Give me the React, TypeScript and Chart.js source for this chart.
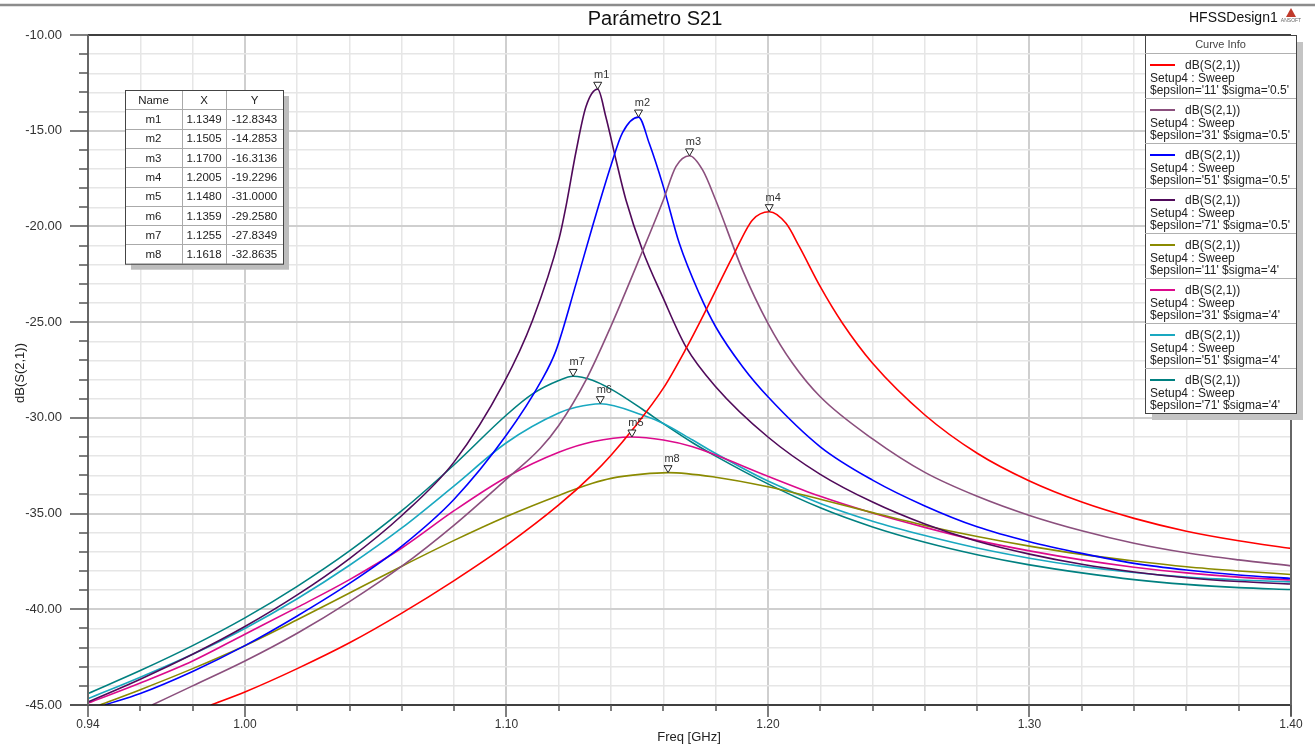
import { useEffect, useRef } from "react";
import { Chart, registerables } from "chart.js";

Chart.register(...registerables);

const FONT = "'Liberation Sans', Arial, Helvetica, sans-serif";

// ---- series meta ----
const seriesEpsilon = ["11", "31", "51", "71", "11", "31", "51", "71"];
const seriesSigma = ["0.5", "0.5", "0.5", "0.5", "4", "4", "4", "4"];
const seriesColors = ["#FF0000", "#8B4F7D", "#0000FF", "#500A5A", "#8A8A00", "#DC0A8C", "#19A8C0", "#008080"];

// ---- series values (Freq GHz / dB) ----
const fE11S05 = [0.987, 1.0, 1.02, 1.04, 1.06, 1.08, 1.1, 1.12, 1.133, 1.14, 1.148, 1.16, 1.1686, 1.1763, 1.1865, 1.1941, 1.2005, 1.2069, 1.212, 1.22, 1.2285, 1.24, 1.26, 1.28, 1.3, 1.32, 1.34, 1.36, 1.38, 1.4];
const dbE11S05 = [-45, -44.32, -43.1, -41.75, -40.2, -38.5, -36.65, -34.55, -32.95, -31.95, -30.65, -28.45, -26.4, -24.37, -21.58, -19.66, -19.23, -19.84, -21.06, -23.15, -25.06, -27.15, -29.85, -31.85, -33.3, -34.4, -35.25, -35.92, -36.42, -36.82];

const fE31S05 = [0.9645, 0.98, 1.0, 1.02, 1.04, 1.06, 1.08, 1.1, 1.1129, 1.12, 1.1305, 1.14, 1.152, 1.16, 1.1648, 1.17, 1.175, 1.18, 1.1903, 1.2, 1.2094, 1.22, 1.24, 1.26, 1.28, 1.3, 1.32, 1.34, 1.36, 1.38, 1.4];
const dbE31S05 = [-45, -44.0, -42.7, -41.25, -39.6, -37.75, -35.6, -33.2, -31.6, -30.4, -28.0, -25.2, -21.3, -18.62, -16.88, -16.31, -17.05, -18.62, -22.28, -25.06, -27.15, -28.9, -31.1, -32.85, -34.1, -35.1, -35.9, -36.55, -37.05, -37.42, -37.73];

const fE51S05 = [0.9464, 0.96, 0.98, 1.0, 1.02, 1.04, 1.06, 1.08, 1.1, 1.1132, 1.1189, 1.1266, 1.1329, 1.14, 1.1444, 1.1505, 1.1546, 1.16, 1.1661, 1.1737, 1.18, 1.1903, 1.2, 1.22, 1.24, 1.26, 1.28, 1.3, 1.32, 1.34, 1.36, 1.38, 1.4];
const dbE51S05 = [-45, -44.4, -43.25, -41.9, -40.35, -38.65, -36.7, -34.25, -30.9, -28.1, -26.5, -23.0, -20.0, -16.8, -15.1, -14.29, -15.66, -17.92, -20.88, -23.5, -25.24, -27.33, -28.9, -31.51, -33.25, -34.6, -35.69, -36.47, -37.08, -37.6, -37.95, -38.21, -38.39];

const fE71S05 = [0.94, 0.96, 0.98, 1.0, 1.02, 1.04, 1.06, 1.08, 1.0989, 1.11, 1.1202, 1.1227, 1.1266, 1.1304, 1.1349, 1.138, 1.1419, 1.1457, 1.152, 1.1597, 1.1686, 1.18, 1.2, 1.22, 1.24, 1.26, 1.28, 1.3, 1.32, 1.34, 1.36, 1.38, 1.4];
const dbE71S05 = [-44.84, -43.65, -42.35, -40.9, -39.25, -37.35, -35.1, -32.3, -28.2, -24.9, -20.6, -19.0, -16.1, -13.75, -12.83, -14.27, -16.53, -18.62, -21.23, -23.67, -26.28, -28.37, -31.0, -32.95, -34.4, -35.55, -36.45, -37.12, -37.65, -38.05, -38.35, -38.55, -38.68];

const fE11S4 = [0.9445, 0.96, 0.98, 1.0, 1.02, 1.04, 1.06, 1.08, 1.1, 1.12, 1.1329, 1.14, 1.152, 1.1618, 1.18, 1.2, 1.22, 1.24, 1.26, 1.28, 1.3, 1.32, 1.34, 1.36, 1.38, 1.4];
const dbE11S4 = [-45, -44.2, -43.1, -41.9, -40.55, -39.15, -37.75, -36.4, -35.15, -34.05, -33.42, -33.16, -32.94, -32.86, -33.1, -33.6, -34.25, -34.95, -35.62, -36.2, -36.7, -37.13, -37.48, -37.78, -38.0, -38.18];

const fE31S4 = [0.94, 0.96, 0.98, 1.0, 1.02, 1.04, 1.06, 1.08, 1.1, 1.12, 1.1329, 1.148, 1.16, 1.1712, 1.18, 1.2, 1.22, 1.24, 1.26, 1.28, 1.3, 1.32, 1.34, 1.36, 1.38, 1.4];
const dbE31S4 = [-44.9, -43.85, -42.7, -41.3, -39.9, -38.45, -36.8, -34.85, -33.1, -31.8, -31.25, -31.0, -31.16, -31.51, -31.94, -33.05, -34.1, -34.97, -35.72, -36.4, -36.95, -37.42, -37.8, -38.1, -38.32, -38.47];

const fE51S4 = [0.94, 0.96, 0.98, 1.0, 1.02, 1.04, 1.06, 1.08, 1.1, 1.12, 1.1266, 1.1359, 1.152, 1.16, 1.1712, 1.18, 1.2, 1.22, 1.24, 1.26, 1.28, 1.3, 1.32, 1.34, 1.36, 1.38, 1.4];
const dbE51S4 = [-44.67, -43.55, -42.35, -41.0, -39.45, -37.7, -35.75, -33.55, -31.3, -29.75, -29.45, -29.26, -29.85, -30.29, -31.16, -31.86, -33.3, -34.47, -35.4, -36.15, -36.8, -37.33, -37.76, -38.08, -38.32, -38.47, -38.57];

const fE71S4 = [0.94, 0.96, 0.98, 1.0, 1.02, 1.04, 1.06, 1.08, 1.1, 1.11, 1.12, 1.1255, 1.1329, 1.14, 1.152, 1.16, 1.1712, 1.18, 1.2, 1.22, 1.24, 1.26, 1.28, 1.3, 1.32, 1.34, 1.36, 1.38, 1.4];
const dbE71S4 = [-44.4, -43.2, -41.9, -40.45, -38.8, -36.95, -34.85, -32.45, -29.85, -28.75, -28.05, -27.83, -28.03, -28.5, -29.55, -30.3, -31.3, -32.0, -33.45, -34.7, -35.7, -36.5, -37.15, -37.68, -38.1, -38.45, -38.7, -38.87, -38.97];

const seriesFreq = [fE11S05, fE31S05, fE51S05, fE71S05, fE11S4, fE31S4, fE51S4, fE71S4];
const seriesDb = [dbE11S05, dbE31S05, dbE51S05, dbE71S05, dbE11S4, dbE31S4, dbE51S4, dbE71S4];

// ---- markers ----
const markerNames = ["m1", "m2", "m3", "m4", "m5", "m6", "m7", "m8"];
const markerFreq = [1.1349, 1.1505, 1.17, 1.2005, 1.148, 1.1359, 1.1255, 1.1618];
const markerDb = [-12.8343, -14.2853, -16.3136, -19.2296, -31.0, -29.258, -27.8349, -32.8635];

// ---- axes ----
const xMin = 0.94;
const xMax = 1.4;
const xStep = 0.02;
const xMajorLabels = ["0.94", "1.00", "1.10", "1.20", "1.30", "1.40"];
const yMin = -45;
const yMax = -10;
const yStep = 1;
const yMajorEvery = 5;

const xTitle = "Freq [GHz]";
const yTitle = "dB(S(2,1))";
const chartTitle = "Parámetro S21";
const designName = "HFSSDesign1";

const isXMajor = (v: number) => xMajorLabels.includes(v.toFixed(2));
const isYMajor = (v: number) => Math.round(v) % yMajorEvery === 0;

const decorPlugin = {
  id: "hfssDecor",
  afterDatasetsDraw(chart: any) {
    const ctx = chart.ctx;
    const xs = chart.scales.x;
    const ys = chart.scales.y;
    ctx.save();
    for (let i = 0; i < markerNames.length; i++) {
      const px = xs.getPixelForValue(markerFreq[i]);
      const py = ys.getPixelForValue(markerDb[i]);
      ctx.beginPath();
      ctx.moveTo(px, py);
      ctx.lineTo(px - 4, py - 7);
      ctx.lineTo(px + 4, py - 7);
      ctx.closePath();
      ctx.fillStyle = "#ffffff";
      ctx.fill();
      ctx.strokeStyle = "#222";
      ctx.lineWidth = 1;
      ctx.stroke();
      ctx.fillStyle = "#333";
      ctx.font = `11px ${FONT}`;
      ctx.textAlign = "center";
      ctx.textBaseline = "middle";
      ctx.fillText(markerNames[i], px + 4, py - 14);
    }
    ctx.restore();
  },
  afterDraw(chart: any) {
    const ctx = chart.ctx;
    const xs = chart.scales.x;
    const ys = chart.scales.y;
    const { left, right, top, bottom } = chart.chartArea;
    ctx.save();

    ctx.strokeStyle = "#8c8c8c";
    ctx.lineWidth = 2.5;
    ctx.beginPath();
    ctx.moveTo(0, 5);
    ctx.lineTo(1315, 5);
    ctx.stroke();

    ctx.strokeStyle = "#111";
    ctx.lineWidth = 1.5;
    ctx.beginPath();
    ctx.moveTo(left, top);
    ctx.lineTo(right, top);
    ctx.moveTo(left - 18, bottom);
    ctx.lineTo(right, bottom);
    ctx.stroke();
    ctx.strokeStyle = "#666";
    ctx.lineWidth = 2;
    ctx.beginPath();
    ctx.moveTo(left, top);
    ctx.lineTo(left, bottom);
    ctx.moveTo(right, top);
    ctx.lineTo(right, bottom + 11);
    ctx.stroke();

    ctx.strokeStyle = "#555";
    ctx.lineWidth = 1.5;
    ctx.beginPath();
    for (let v = yMin; v <= yMax; v += yStep) {
      const py = Math.round(ys.getPixelForValue(v));
      const len = isYMajor(v) ? 18 : 9;
      ctx.moveTo(left - len, py);
      ctx.lineTo(left, py);
    }
    const nX = Math.round((xMax - xMin) / xStep);
    for (let k = 0; k <= nX; k++) {
      const v = xMin + k * xStep;
      const px = Math.round(xs.getPixelForValue(v));
      const len = isXMajor(v) ? 12 : 6;
      ctx.moveTo(px, bottom);
      ctx.lineTo(px, bottom + len);
    }
    ctx.stroke();

    ctx.fillStyle = "#111";
    ctx.textAlign = "center";
    ctx.textBaseline = "middle";
    ctx.font = `20px ${FONT}`;
    ctx.fillText(chartTitle, 655, 19);
    ctx.font = `14px ${FONT}`;
    ctx.textAlign = "left";
    ctx.fillText(designName, 1189, 18);

    ctx.fillStyle = "#c0392b";
    ctx.beginPath();
    ctx.moveTo(1291, 8);
    ctx.lineTo(1286, 17);
    ctx.lineTo(1296, 17);
    ctx.closePath();
    ctx.fill();
    ctx.fillStyle = "#666";
    ctx.font = `5px ${FONT}`;
    ctx.textAlign = "center";
    ctx.fillText("ANSOFT", 1291, 21);

    ctx.fillStyle = "#222";
    ctx.font = `13px ${FONT}`;
    ctx.textAlign = "center";
    ctx.fillText(xTitle, 689, 737);
    ctx.save();
    ctx.translate(20, 373);
    ctx.rotate(-Math.PI / 2);
    ctx.fillText(yTitle, 0, 0);
    ctx.restore();

    // marker table
    const tx = 125, ty = 90, rh = 19.3;
    const cols = [125, 182, 226, 283];
    const th = rh * 9;
    ctx.fillStyle = "#bdbdbd";
    ctx.fillRect(tx + 6, ty + 6, cols[3] - tx, th);
    ctx.fillStyle = "#fff";
    ctx.fillRect(tx, ty, cols[3] - tx, th);
    ctx.strokeStyle = "#aaa";
    ctx.lineWidth = 1;
    ctx.beginPath();
    for (let r = 1; r < 9; r++) {
      const yy = Math.round(ty + r * rh) + 0.5;
      ctx.moveTo(tx, yy);
      ctx.lineTo(cols[3], yy);
    }
    for (let c = 1; c < 3; c++) {
      ctx.moveTo(cols[c] + 0.5, ty);
      ctx.lineTo(cols[c] + 0.5, ty + th);
    }
    ctx.stroke();
    ctx.strokeStyle = "#444";
    ctx.strokeRect(tx + 0.5, ty + 0.5, cols[3] - tx, th);
    ctx.fillStyle = "#222";
    ctx.font = `11.5px ${FONT}`;
    ctx.textAlign = "center";
    ctx.textBaseline = "middle";
    const headers = ["Name", "X", "Y"];
    for (let c = 0; c < 3; c++) {
      ctx.fillText(headers[c], (cols[c] + cols[c + 1]) / 2, ty + rh / 2 + 1);
    }
    for (let i = 0; i < markerNames.length; i++) {
      const cy = ty + (i + 1.5) * rh + 1;
      ctx.fillText(markerNames[i], (cols[0] + cols[1]) / 2, cy);
      ctx.fillText(markerFreq[i].toFixed(4), (cols[1] + cols[2]) / 2, cy);
      ctx.fillText(markerDb[i].toFixed(4), (cols[2] + cols[3]) / 2, cy);
    }

    // legend box (Curve Info)
    const lx = 1145, ly = 35, lw = 151, headH = 18, entH = 45;
    const lh = headH + entH * seriesColors.length;
    ctx.fillStyle = "#c4c4c4";
    ctx.fillRect(lx + 7, ly + 7, lw, lh);
    ctx.fillStyle = "#fff";
    ctx.fillRect(lx, ly, lw, lh);
    ctx.strokeStyle = "#444";
    ctx.lineWidth = 1;
    ctx.strokeRect(lx + 0.5, ly + 0.5, lw, lh);
    ctx.fillStyle = "#444";
    ctx.font = `11px ${FONT}`;
    ctx.textAlign = "center";
    ctx.fillText("Curve Info", lx + lw / 2, ly + 10);
    for (let k = 0; k < seriesColors.length; k++) {
      const et = ly + headH + k * entH;
      ctx.strokeStyle = "#b0b0b0";
      ctx.lineWidth = 1;
      ctx.beginPath();
      ctx.moveTo(lx, Math.round(et) + 0.5);
      ctx.lineTo(lx + lw, Math.round(et) + 0.5);
      ctx.stroke();
      ctx.strokeStyle = seriesColors[k];
      ctx.lineWidth = 2;
      ctx.beginPath();
      ctx.moveTo(lx + 5, et + 12);
      ctx.lineTo(lx + 30, et + 12);
      ctx.stroke();
      ctx.fillStyle = "#222";
      ctx.font = `12px ${FONT}`;
      ctx.textAlign = "left";
      ctx.fillText("dB(S(2,1))", lx + 40, et + 13);
      ctx.fillText("Setup4 : Sweep", lx + 5, et + 25.5);
      ctx.fillText(`$epsilon='${seriesEpsilon[k]}' $sigma='${seriesSigma[k]}'`, lx + 5, et + 37.5);
    }
    ctx.restore();
  },
};

export default function App() {
  const ref = useRef<HTMLCanvasElement | null>(null);
  useEffect(() => {
    if (!ref.current) return;
    const datasets = seriesFreq.map((fs, i) => ({
      label: `dB(S(2,1)) $epsilon='${seriesEpsilon[i]}' $sigma='${seriesSigma[i]}'`,
      data: fs.map((f, j) => ({ x: f, y: seriesDb[i][j] })),
      borderColor: seriesColors[i],
      backgroundColor: seriesColors[i],
      borderWidth: 1.6,
      pointRadius: 0,
      showLine: true,
      fill: false,
      cubicInterpolationMode: "monotone" as const,
      clip: 0,
    }));
    const chart = new Chart(ref.current, {
      type: "scatter",
      data: { datasets },
      options: {
        animation: false,
        responsive: false,
        devicePixelRatio: 1,
        layout: { padding: { top: 35, right: 24, left: 0, bottom: 0 } },
        plugins: { legend: { display: false }, title: { display: false }, tooltip: { enabled: false } },
        scales: {
          x: {
            type: "linear",
            min: xMin,
            max: xMax,
            afterBuildTicks: (scale: any) => {
              const n = Math.round((xMax - xMin) / xStep);
              const t = [];
              for (let k = 0; k <= n; k++) t.push({ value: +(xMin + k * xStep).toFixed(2) });
              scale.ticks = t;
            },
            afterFit: (scale: any) => {
              scale.height = 42;
            },
            grid: {
              drawTicks: false,
              color: (c: any) => (c.tick && isXMajor(c.tick.value) ? "#cfcfcf" : "#e6e6e6"),
              lineWidth: (c: any) => (c.tick && isXMajor(c.tick.value) ? 2 : 1.5),
            },
            border: { display: false },
            ticks: {
              autoSkip: false,
              maxRotation: 0,
              padding: 12,
              color: "#333",
              font: { family: FONT, size: 12 },
              callback: (v: any) => (isXMajor(Number(v)) ? Number(v).toFixed(2) : ""),
            },
          },
          y: {
            type: "linear",
            min: yMin,
            max: yMax,
            afterBuildTicks: (scale: any) => {
              const t = [];
              for (let v = yMin; v <= yMax; v += yStep) t.push({ value: v });
              scale.ticks = t;
            },
            afterFit: (scale: any) => {
              scale.width = 88;
            },
            grid: {
              drawTicks: false,
              color: (c: any) => (c.tick && isYMajor(c.tick.value) ? "#cfcfcf" : "#e6e6e6"),
              lineWidth: (c: any) => (c.tick && isYMajor(c.tick.value) ? 2 : 1.5),
            },
            border: { display: false },
            ticks: {
              autoSkip: false,
              padding: 26,
              color: "#333",
              font: { family: FONT, size: 13 },
              callback: (v: any) => (isYMajor(Number(v)) ? Number(v).toFixed(2) : ""),
            },
          },
        },
      },
      plugins: [decorPlugin],
    });
    return () => chart.destroy();
  }, []);
  return (
    <div style={{ position: "fixed", left: 0, top: 0, width: 1315, height: 747, background: "#fff" }}>
      <canvas ref={ref} width={1315} height={747} style={{ width: 1315, height: 747, display: "block" }} />
    </div>
  );
}
